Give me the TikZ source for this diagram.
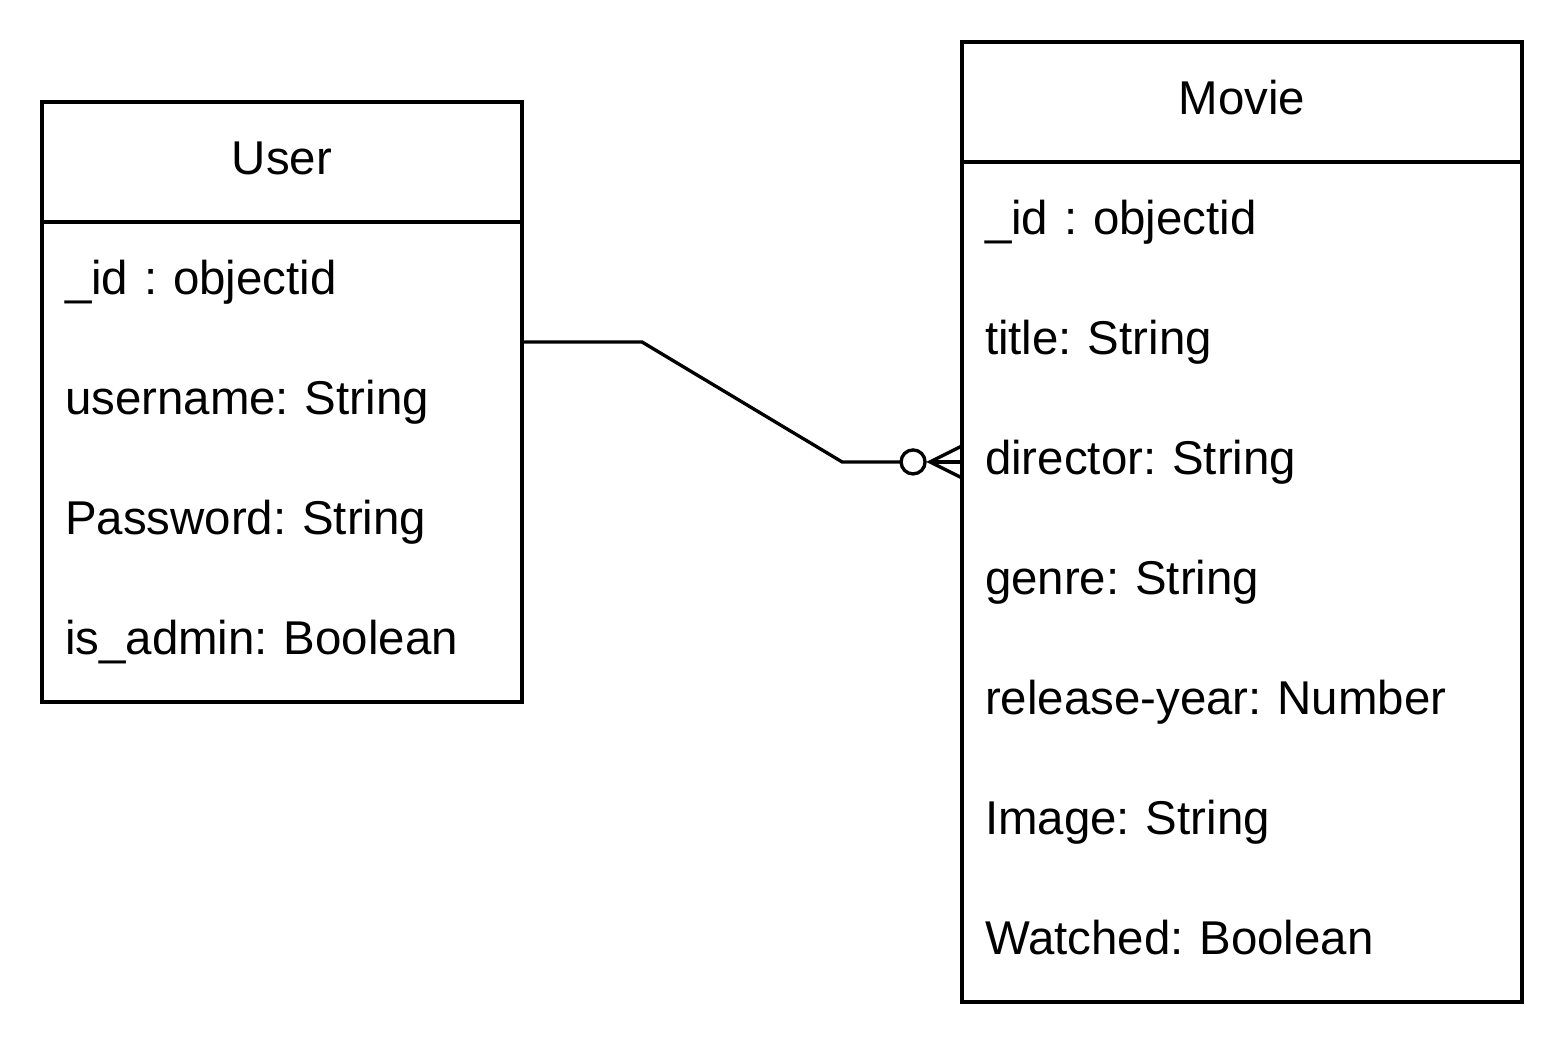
\documentclass[tikz,border=0pt]{standalone}
\usepackage{fontspec}
\setmainfont{Liberation Sans}
\usetikzlibrary{positioning}
\frenchspacing

\begin{document}
\begin{tikzpicture}[x=0.02cm,y=-0.02cm,line width=1.9pt]
\tikzstyle{every node}+=[inner sep=0pt,outer sep=0pt,font=\fontsize{27}{32}\selectfont]
\tikzstyle{header}=[minimum height=2.4cm,text height=0.72cm,text depth=0.2cm]
\tikzstyle{attr}=[minimum height=2.4cm,text height=0.72cm,text depth=0.2cm,align=left,inner xsep=0.46cm]
\useasboundingbox (0,0) rectangle (1564,1044);
% User
\node (uhead) [header,minimum width=9.6cm] at (282,162) {User};
\node (uid) [attr,text width=8.68cm,below=0pt of uhead] {\_id : objectid};
\node (uname) [attr,text width=8.68cm,below=0pt of uid] {username: String};
\node (upass) [attr,text width=8.68cm,below=0pt of uname] {Password: String};
\node (uadmin) [attr,text width=8.68cm,below=0pt of upass] {is\_admin: Boolean};
\draw (uhead.north west) rectangle (uadmin.south east);
\draw (uhead.south west) -- (uhead.south east);
% Movie
\node (mhead) [header,minimum width=11.2cm] at (1242,102) {Movie};
\node (mid) [attr,text width=10.28cm,below=0pt of mhead] {\_id : objectid};
\node (mtitle) [attr,text width=10.28cm,below=0pt of mid] {title: String};
\node (mdir) [attr,text width=10.28cm,below=0pt of mtitle] {director: String};
\node (mgenre) [attr,text width=10.28cm,below=0pt of mdir] {genre: String};
\node (myear) [attr,text width=10.28cm,below=0pt of mgenre] {release-year: Number};
\node (mimage) [attr,text width=10.28cm,below=0pt of myear] {Image: String};
\node (mwatch) [attr,text width=10.28cm,below=0pt of mimage] {Watched: Boolean};
\draw (mhead.north west) rectangle (mwatch.south east);
\draw (mhead.south west) -- (mhead.south east);
% relation: one user, zero or many movies
\draw (uid.south east) -- ++(120,0) -- ([xshift=-2.4cm]mdir.west) -- ([xshift=-1.22cm]mdir.west);
\draw ([xshift=-0.98cm]mdir.west) circle [radius=0.24cm];
\draw ([xshift=-0.64cm]mdir.west) -- (mdir.west);
\draw ([yshift=0.32cm]mdir.west) -- ([xshift=-0.64cm]mdir.west) -- ([yshift=-0.32cm]mdir.west);
\end{tikzpicture}
\end{document}
